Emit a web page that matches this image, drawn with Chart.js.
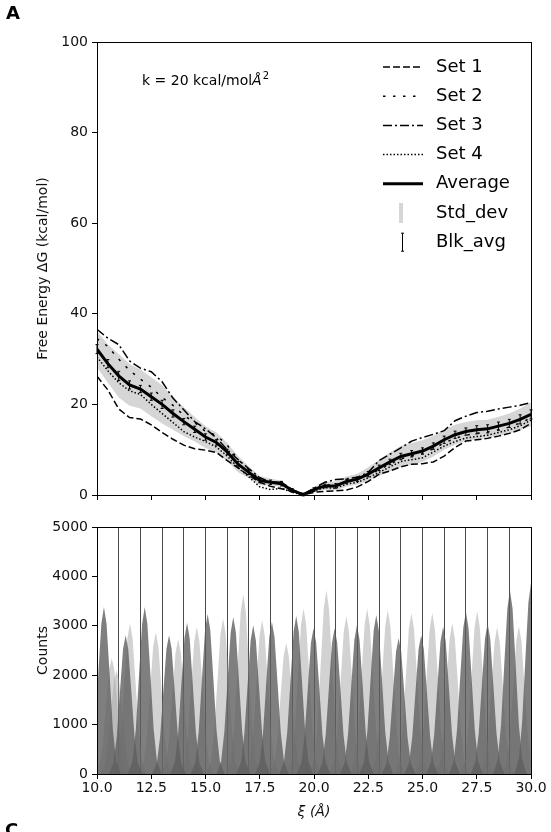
<!DOCTYPE html>
<html>
<head>
<meta charset="utf-8">
<script src="https://cdn.jsdelivr.net/npm/chart.js@4"></script>
<style>
  body { margin: 0; background: #fff; }
  #wrap { position: relative; width: 551px; height: 832px; overflow: hidden; }
  #wrap > div { position: absolute; left: 0; width: 551px; }
</style>
</head>
<body>
<div id="wrap">
  <div style="top:0;height:510px"><canvas id="energyChart"></canvas></div>
  <div style="top:510px;height:322px"><canvas id="countsChart"></canvas></div>
</div>
<script>
// reaction coordinate (Å)
const xi = [10.0, 10.5, 11.0, 11.5, 12.0, 12.5, 13.0, 13.5, 14.0, 14.5, 15.0, 15.5, 16.0, 16.5, 17.0, 17.5, 18.0, 18.5, 19.0, 19.5,
            20.0, 20.5, 21.0, 21.5, 22.0, 22.5, 23.0, 23.5, 24.0, 24.5, 25.0, 25.5, 26.0, 26.5, 27.0, 27.5, 28.0, 28.5, 29.0, 29.5, 30.0];

// free energy (kcal/mol) for each set
const set1 = [26.2, 23.2, 19.0, 17.1, 16.8, 15.5, 13.8, 12.3, 11.0, 10.2, 9.9, 9.4, 7.6, 6.0, 4.3, 2.8, 1.9, 1.4, 0.8, 0.0,
              0.6, 0.8, 0.9, 1.1, 1.8, 3.0, 4.6, 5.3, 6.2, 6.8, 6.9, 7.3, 8.6, 10.5, 11.9, 12.2, 12.5, 13.0, 13.6, 14.4, 15.8];
const set2 = [34.5, 32.8, 30.0, 27.5, 25.6, 23.8, 21.5, 19.8, 17.6, 16.0, 14.0, 13.2, 11.0, 7.8, 5.6, 3.4, 2.8, 2.8, 1.2, 0.2,
              1.4, 2.2, 2.2, 3.2, 3.6, 4.4, 5.6, 6.8, 8.0, 8.6, 9.2, 10.2, 11.5, 12.5, 13.2, 13.6, 13.9, 14.4, 15.0, 15.9, 17.0];
const set3 = [36.6, 34.6, 33.2, 29.6, 28.0, 27.2, 25.0, 21.4, 18.8, 16.2, 14.6, 12.6, 10.0, 7.8, 5.8, 3.8, 2.9, 2.8, 1.2, 0.1,
              1.5, 2.8, 3.4, 3.6, 3.9, 5.0, 7.6, 9.0, 10.4, 11.9, 12.7, 13.4, 14.2, 16.4, 17.4, 18.2, 18.5, 19.0, 19.4, 19.8, 20.4];
const set4 = [30.5, 27.4, 24.8, 23.0, 22.2, 20.0, 18.0, 16.0, 14.0, 12.8, 11.8, 10.6, 8.6, 6.0, 4.0, 1.8, 1.2, 1.5, 0.6, 0.0,
              0.9, 1.6, 1.5, 2.4, 2.8, 3.8, 5.0, 6.2, 7.4, 7.8, 8.2, 9.5, 10.8, 11.8, 12.6, 12.9, 13.2, 13.8, 14.4, 15.3, 16.5];
const avgEnergy = [32.2, 29.0, 26.3, 24.3, 23.4, 21.7, 20.0, 18.0, 16.2, 14.5, 12.8, 11.6, 9.5, 6.8, 5.0, 3.2, 2.8, 2.5, 1.0, 0.1,
                   1.2, 2.0, 2.0, 3.0, 3.5, 4.6, 6.0, 7.3, 8.5, 9.1, 9.7, 10.8, 12.2, 13.3, 14.0, 14.4, 14.6, 15.2, 15.8, 16.7, 17.8];
const stdDev = [4.0, 4.2, 4.8, 4.6, 4.3, 4.3, 4.2, 3.6, 3.2, 2.7, 2.4, 2.2, 2.0, 1.8, 1.3, 1.0, 0.8, 0.7, 0.4, 0.1,
                0.5, 0.9, 1.0, 1.1, 1.2, 1.5, 1.8, 2.1, 2.3, 2.4, 2.4, 2.3, 2.2, 2.2, 2.1, 2.1, 2.0, 2.1, 2.2, 2.4, 2.6];
const blkErr = [1.0, 0.9, 1.0, 0.9, 0.8, 0.8, 0.9, 0.8, 0.7, 0.7, 0.7, 0.6, 0.6, 0.6, 0.5, 0.5, 0.5, 0.5, 0.4, 0.3,
                0.4, 0.4, 0.5, 0.5, 0.5, 0.6, 0.6, 0.6, 0.7, 0.7, 0.7, 0.7, 0.8, 0.8, 0.8, 0.9, 0.9, 0.9, 0.9, 1.0, 1.0];

// umbrella window histograms: peak centre (Å) and peak height (counts)
const darkPeakPos = [10.32, 11.32, 12.2, 13.32, 14.15, 15.1, 16.28, 17.2, 18.06, 19.18, 19.98,
                     20.95, 21.98, 22.87, 23.9, 24.94, 25.95, 27.0, 28.0, 29.03, 30.0];
const darkPeakCounts = [3380, 2810, 3380, 2810, 3060, 3240, 3180, 3010, 3080, 3200, 2950,
                        2950, 3015, 3220, 2750, 2810, 2980, 3290, 3050, 3720, 3860];
const lightPeakPos = [10.68, 10.9, 11.52, 12.71, 13.74, 14.6, 15.81, 16.74, 17.61, 18.72, 19.52,
                      20.57, 21.49, 22.45, 23.4, 24.49, 25.45, 26.37, 27.52, 28.44, 29.44];
const lightPeakCounts = [2350, 2100, 3050, 2870, 2730, 2980, 3150, 3640, 3110, 2650, 3350,
                         3720, 3200, 3350, 3320, 3260, 3260, 3050, 3300, 2970, 2990];
// peak profile: offset from centre (Å), fraction of peak height
const peakOffset = [-0.78, -0.56, -0.41, -0.26, -0.12, 0, 0.12, 0.26, 0.41, 0.56, 0.78];
const peakFraction = [0, 0.08, 0.27, 0.6, 0.9, 1, 0.9, 0.6, 0.27, 0.08, 0];

const FONT = "'DejaVu Sans', sans-serif";
Chart.defaults.font.family = FONT;
Chart.defaults.font.size = 14;
Chart.defaults.color = '#111';

function points(ys) {
  return xi.map((x, i) => ({ x: x, y: ys[i] }));
}

function peak(center, count) {
  return peakOffset.map((o, i) => ({ x: center + o, y: count * peakFraction[i] }));
}

// box around the plot area
const framePlugin = {
  id: 'frame',
  afterDatasetsDraw(chart) {
    const { ctx, chartArea: a } = chart;
    ctx.save();
    ctx.strokeStyle = '#000';
    ctx.lineWidth = 1;
    ctx.strokeRect(Math.round(a.left) + 0.5, Math.round(a.top) + 0.5,
                   Math.round(a.right - a.left), Math.round(a.bottom - a.top));
    ctx.restore();
  }
};

// block average error bars on the average curve
const errorBarPlugin = {
  id: 'blkErrors',
  afterDatasetsDraw(chart) {
    const { ctx, scales: { x, y } } = chart;
    ctx.save();
    ctx.strokeStyle = '#000';
    ctx.lineWidth = 1;
    ctx.beginPath();
    xi.forEach((v, i) => {
      const px = x.getPixelForValue(v);
      const top = y.getPixelForValue(avgEnergy[i] + blkErr[i]);
      const bot = y.getPixelForValue(avgEnergy[i] - blkErr[i]);
      ctx.moveTo(px, top); ctx.lineTo(px, bot);
      ctx.moveTo(px - 1.5, top); ctx.lineTo(px + 1.5, top);
      ctx.moveTo(px - 1.5, bot); ctx.lineTo(px + 1.5, bot);
    });
    ctx.stroke();
    ctx.restore();
  }
};

// legend in the upper right corner of the plot
const legendPlugin = {
  id: 'fesLegend',
  afterDraw(chart) {
    const ctx = chart.ctx;
    const rows = chart.data.datasets.filter(d => d.legendRow !== undefined)
      .sort((a, b) => a.legendRow - b.legendRow);
    ctx.save();
    ctx.font = '18px ' + FONT;
    ctx.textBaseline = 'middle';
    ctx.fillStyle = '#000';
    rows.forEach((d, i) => {
      const y = 67 + i * 29.2;
      ctx.save();
      if (d.label === 'Std_dev') {
        ctx.fillStyle = '#d6d6d6';
        ctx.fillRect(399, y - 10, 4, 20);
      } else {
        ctx.strokeStyle = '#000';
        ctx.lineWidth = d.borderWidth;
        ctx.setLineDash(d.borderDash || []);
        ctx.beginPath();
        ctx.moveTo(383, y);
        ctx.lineTo(423, y);
        ctx.stroke();
      }
      ctx.restore();
      ctx.fillText(d.label, 436, y);
    });
    // Blk_avg entry
    const yb = 67 + rows.length * 29.2;
    ctx.strokeStyle = '#000';
    ctx.lineWidth = 1;
    ctx.beginPath();
    ctx.moveTo(402.5, yb - 9); ctx.lineTo(402.5, yb + 9);
    ctx.moveTo(401, yb - 9); ctx.lineTo(404, yb - 9);
    ctx.moveTo(401, yb + 9); ctx.lineTo(404, yb + 9);
    ctx.stroke();
    ctx.fillText('Blk_avg', 436, yb);
    ctx.restore();
  }
};

const topTextPlugin = {
  id: 'topText',
  afterDraw(chart) {
    const ctx = chart.ctx;
    ctx.save();
    ctx.fillStyle = '#000';
    ctx.textBaseline = 'alphabetic';
    ctx.font = 'bold 18px ' + FONT;
    ctx.fillText('A', 6, 19);
    ctx.font = '14px ' + FONT;
    let x = 142;
    const base = 85;
    const main = 'k = 20 kcal/mol';
    ctx.fillText(main, x, base);
    x += ctx.measureText(main).width;
    ctx.font = 'italic 14px ' + FONT;
    ctx.fillText('Å', x, base);
    x += ctx.measureText('Å').width + 1;
    ctx.font = '10px ' + FONT;
    ctx.fillText('2', x, base - 6);
    ctx.restore();
  }
};

const bottomTextPlugin = {
  id: 'bottomText',
  afterDraw(chart) {
    const ctx = chart.ctx;
    ctx.save();
    ctx.fillStyle = '#000';
    ctx.font = 'bold 18px ' + FONT;
    ctx.fillText('C', 5, 326);
    ctx.restore();
  }
};

const lineStyle = { pointRadius: 0, borderColor: '#000', tension: 0, fill: false };

new Chart(document.getElementById('energyChart'), {
  type: 'line',
  data: {
    datasets: [
      Object.assign({ label: 'Average', legendRow: 4, data: points(avgEnergy), borderWidth: 3, order: 0 }, lineStyle),
      Object.assign({ label: 'Set 1', legendRow: 0, data: points(set1), borderWidth: 1.5, borderDash: [7, 3], order: 1 }, lineStyle),
      Object.assign({ label: 'Set 2', legendRow: 1, data: points(set2), borderWidth: 1.5, borderDash: [2.5, 7.5], order: 2 }, lineStyle),
      Object.assign({ label: 'Set 3', legendRow: 2, data: points(set3), borderWidth: 1.5, borderDash: [9, 3, 2, 3], order: 3 }, lineStyle),
      Object.assign({ label: 'Set 4', legendRow: 3, data: points(set4), borderWidth: 1.5, borderDash: [1.5, 2], order: 4 }, lineStyle),
      {
        label: 'Std_dev', legendRow: 5, order: 5,
        data: points(avgEnergy.map((v, i) => v + stdDev[i])),
        borderWidth: 0, pointRadius: 0, tension: 0,
        backgroundColor: '#d6d6d6', fill: '+1'
      },
      {
        label: 'stdLow', order: 6,
        data: points(avgEnergy.map((v, i) => v - stdDev[i])),
        borderWidth: 0, pointRadius: 0, tension: 0, fill: false
      }
    ]
  },
  options: {
    responsive: true,
    maintainAspectRatio: false,
    animation: false,
    layout: { padding: { top: 42, right: 20, left: 0, bottom: 0 } },
    plugins: { legend: { display: false }, tooltip: { enabled: false } },
    scales: {
      x: {
        type: 'linear', min: 10, max: 30,
        ticks: { stepSize: 2.5, display: false },
        grid: { drawOnChartArea: false, drawTicks: true, tickLength: 5, color: '#000' },
        border: { color: '#000' },
        afterFit: s => { s.height = 15; }
      },
      y: {
        min: 0, max: 100,
        ticks: { stepSize: 20, padding: 4 },
        grid: { drawOnChartArea: false, tickLength: 5, color: '#000' },
        border: { color: '#000' },
        title: { display: true, text: 'Free Energy ΔG (kcal/mol)', font: { size: 14 }, color: '#111', padding: { top: 35 } },
        afterFit: s => { s.width = 97; }
      }
    }
  },
  plugins: [errorBarPlugin, framePlugin, legendPlugin, topTextPlugin]
});

const histDatasets = [];
darkPeakPos.forEach((c, i) => {
  histDatasets.push({
    data: peak(c, darkPeakCounts[i]), borderWidth: 0, pointRadius: 0, tension: 0,
    backgroundColor: 'rgba(95,95,95,0.8)', fill: 'origin'
  });
});
lightPeakPos.forEach((c, i) => {
  histDatasets.push({
    data: peak(c, lightPeakCounts[i]), borderWidth: 0, pointRadius: 0, tension: 0,
    backgroundColor: 'rgba(160,160,160,0.48)', fill: 'origin'
  });
});

new Chart(document.getElementById('countsChart'), {
  type: 'line',
  data: { datasets: histDatasets },
  options: {
    responsive: true,
    maintainAspectRatio: false,
    animation: false,
    layout: { padding: { top: 17, right: 20, left: 0, bottom: 0 } },
    plugins: { legend: { display: false }, tooltip: { enabled: false } },
    scales: {
      x: {
        type: 'linear', min: 10, max: 30,
        ticks: { stepSize: 2.5, padding: 1, maxRotation: 0, callback: v => v.toFixed(1) },
        grid: { drawOnChartArea: false, tickLength: 5, color: '#000' },
        border: { color: '#000' },
        title: { display: true, text: 'ξ (Å)', font: { size: 14, style: 'italic' }, color: '#111', padding: { bottom: 11 } },
        afterFit: s => { s.height = 58; }
      },
      windows: {
        type: 'linear', position: 'top', min: 10, max: 30,
        ticks: { stepSize: 1, display: false },
        grid: { drawTicks: false, color: 'rgba(30,30,30,0.8)', lineWidth: 1 },
        border: { display: false },
        afterFit: s => { s.height = 0; }
      },
      y: {
        min: 0, max: 5000,
        ticks: { stepSize: 1000, padding: 4, callback: v => String(v) },
        grid: { drawOnChartArea: false, tickLength: 5, color: '#000' },
        border: { color: '#000' },
        title: { display: true, text: 'Counts', font: { size: 14 }, color: '#111', padding: { top: 35 } },
        afterFit: s => { s.width = 97; }
      }
    }
  },
  plugins: [framePlugin, bottomTextPlugin]
});
</script>
</body>
</html>
